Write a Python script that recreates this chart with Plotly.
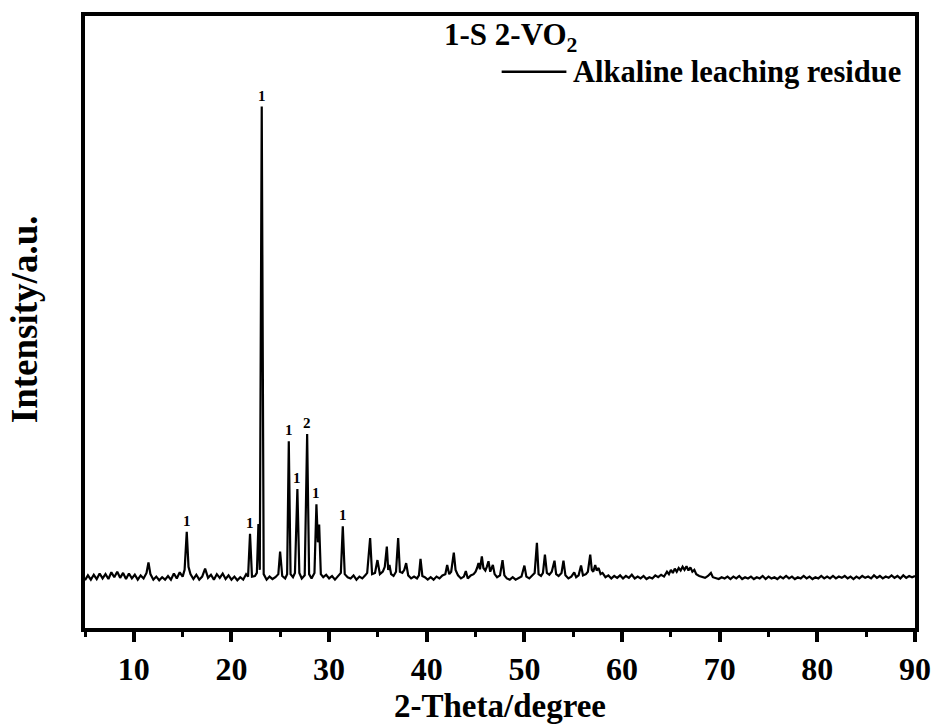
import plotly.graph_objects as go

# ---- XRD pattern (2-theta in degrees, intensity in arbitrary units) ----
two_theta = [
    5.0, 5.3, 5.6, 5.9, 6.2, 6.5, 6.8, 7.1, 7.4, 7.7, 8.0, 8.3, 8.6, 8.9, 9.2, 9.5, 9.8, 10.1, 10.4, 10.7,
    11.0, 11.3, 11.5, 11.7, 12.0, 12.3, 12.6, 12.9, 13.2, 13.5, 13.8, 14.1, 14.4, 14.7, 15.0, 15.2, 15.42, 15.6, 15.8,
    16.1, 16.4, 16.7, 17.0, 17.3, 17.6, 17.9, 18.2, 18.5, 18.8, 19.1, 19.4, 19.7, 20.0, 20.3, 20.6, 20.9,
    21.2, 21.5, 21.7, 21.9, 22.1, 22.4, 22.6, 22.76, 22.9, 23.1, 23.3, 23.6, 23.9, 24.2, 24.5, 24.8, 24.98,
    25.2, 25.5, 25.7, 25.87, 26.05, 26.3, 26.5, 26.75, 26.95, 27.2, 27.5, 27.75, 27.95, 28.2, 28.5, 28.7,
    28.85, 28.98, 29.15, 29.4, 29.7, 30.0, 30.3, 30.6, 30.9, 31.2, 31.4, 31.6, 31.9, 32.2, 32.5, 32.8, 33.1,
    33.4, 33.7, 33.9, 34.2, 34.4, 34.7, 34.95, 35.2, 35.5, 35.7, 35.91, 36.05, 36.18, 36.35, 36.6, 36.85,
    37.07, 37.25, 37.5, 37.7, 37.89, 38.1, 38.4, 38.7, 39.0, 39.2, 39.36, 39.55, 39.8, 40.1, 40.4, 40.7,
    41.0, 41.3, 41.6, 41.9, 42.09, 42.3, 42.5, 42.77, 42.95, 43.2, 43.5, 43.8, 44.0, 44.2, 44.5, 44.8, 45.0,
    45.15, 45.3, 45.45, 45.64, 45.8, 46.0, 46.15, 46.32, 46.5, 46.77, 46.95, 47.2, 47.5, 47.76, 47.95, 48.2,
    48.5, 48.8, 49.1, 49.4, 49.7, 50.0, 50.2, 50.5, 50.8, 51.05, 51.28, 51.45, 51.7, 51.9, 52.1, 52.3, 52.55,
    52.8, 53.08, 53.25, 53.5, 53.8, 54.0, 54.2, 54.5, 54.8, 55.1, 55.3, 55.55, 55.8, 56.0, 56.3, 56.5, 56.74,
    56.9, 57.05, 57.25, 57.4, 57.6, 57.8, 58.0, 58.3, 58.6, 58.9, 59.2, 59.5, 59.8, 60.1, 60.4, 60.7, 61.0,
    61.3, 61.6, 61.9, 62.2, 62.5, 62.8, 63.1, 63.4, 63.7, 64.0, 64.3, 64.6, 64.8, 65.0, 65.2, 65.4, 65.6,
    65.8, 66.0, 66.2, 66.4, 66.6, 66.8, 67.0, 67.2, 67.4, 67.6, 67.9, 68.2, 68.5, 68.8, 69.1, 69.3, 69.6,
    69.9, 70.2, 70.5, 70.8, 71.1, 71.4, 71.7, 72.0, 72.3, 72.6, 72.9, 73.2, 73.5, 73.8, 74.1, 74.4, 74.7,
    75.0, 75.3, 75.6, 75.9, 76.2, 76.5, 76.8, 77.1, 77.4, 77.7, 78.0, 78.3, 78.6, 78.9, 79.2, 79.5, 79.8,
    80.1, 80.4, 80.7, 81.0, 81.3, 81.6, 81.9, 82.2, 82.5, 82.8, 83.1, 83.4, 83.7, 84.0, 84.3, 84.6, 84.9,
    85.2, 85.5, 85.8, 86.1, 86.4, 86.7, 87.0, 87.3, 87.6, 87.9, 88.2, 88.5, 88.8, 89.1, 89.4, 89.7, 90.0,
]
intensity = [
    78, 86, 79, 87, 80, 89, 81, 88, 80, 91, 83, 92, 82, 90, 80, 89, 81, 87, 79, 86,
    81, 90, 107, 88, 79, 84, 78, 83, 79, 85, 79, 89, 81, 91, 84, 95, 157, 100, 88,
    80, 87, 79, 84, 97, 82, 87, 79, 88, 82, 89, 80, 86, 79, 84, 78, 83,
    79, 88, 84, 154, 84, 85, 90, 170, 95, 852, 88, 79, 84, 80, 83, 88, 125,
    85, 81, 88, 305, 88, 83, 90, 227, 90, 81, 86, 317, 88, 81, 90, 202,
    140, 169, 88, 83, 87, 81, 85, 79, 84, 90, 166, 88, 83, 81, 86, 79, 84,
    81, 86, 90, 147, 88, 90, 111, 88, 92, 100, 133, 95, 103, 88, 85, 92,
    147, 92, 90, 95, 106, 86, 81, 84, 81, 86, 113, 85, 83, 79, 83, 79,
    84, 81, 86, 88, 103, 88, 92, 123, 95, 86, 81, 84, 93, 81, 86, 88, 92,
    98, 106, 96, 117, 98, 94, 100, 109, 92, 103, 88, 83, 86, 111, 86, 81,
    79, 83, 79, 82, 84, 102, 84, 81, 86, 90, 139, 88, 85, 90, 120, 90, 87,
    92, 110, 88, 85, 90, 110, 86, 81, 84, 91, 83, 86, 102, 86, 88, 92, 120,
    95, 92, 103, 94, 98, 88, 90, 83, 86, 81, 85, 82, 86, 81, 85, 82, 87,
    81, 84, 81, 85, 80, 83, 81, 86, 83, 87, 84, 92, 88, 95, 90, 97, 92,
    98, 94, 100, 95, 101, 94, 99, 92, 95, 88, 85, 83, 82, 85, 90, 83, 81,
    80, 83, 81, 84, 80, 84, 81, 85, 80, 83, 81, 84, 80, 83, 81, 85, 80,
    84, 81, 83, 80, 84, 81, 85, 81, 84, 80, 83, 81, 85, 81, 84, 80, 83,
    81, 85, 81, 84, 81, 85, 81, 84, 82, 85, 81, 84, 80, 84, 81, 85, 82,
    84, 81, 86, 82, 85, 81, 84, 82, 86, 82, 85, 81, 86, 82, 85, 83, 85,
]

# ---- phase markers above peaks (1 = S, 2 = VO2) ----
label_x = [15.42, 21.9, 23.1, 25.87, 26.75, 27.75, 28.7, 31.4]
label_y = [157, 154, 852, 305, 227, 317, 202, 166]
label_text = ["1", "1", "1", "1", "1", "2", "1", "1"]

series_name = "Alkaline leaching residue"
phase_title = "1-S 2-VO<sub>2</sub>"
x_title = "2-Theta/degree"
y_title = "Intensity/a.u."
x_range = [5, 90]
y_range = [0, 1000]
x_tickvals = [10, 20, 30, 40, 50, 60, 70, 80, 90]

FONT = "Liberation Serif, Times New Roman, serif"

fig = go.Figure()
fig.add_trace(go.Scatter(
    x=two_theta, y=intensity, mode="lines", name=series_name,
    line=dict(color="black", width=2.2), showlegend=False,
))

for lx, ly, lt in zip(label_x, label_y, label_text):
    fig.add_annotation(x=lx, y=ly, text="<b>" + lt + "</b>", showarrow=False,
                       xanchor="center", yanchor="bottom", yshift=1,
                       font=dict(family=FONT, size=15, color="black"))

# phase title and legend entry
fig.add_annotation(xref="paper", yref="paper", x=0.43, y=0.966, text="<b>" + phase_title + "</b>",
                   showarrow=False, xanchor="left", yanchor="middle",
                   font=dict(family=FONT, size=31, color="black"))
fig.add_shape(type="line", xref="paper", yref="paper", x0=0.502, x1=0.580, y0=0.909, y1=0.909,
              line=dict(color="black", width=2.5))
fig.add_annotation(xref="paper", yref="paper", x=0.585, y=0.908, text="<b>" + series_name + "</b>",
                   showarrow=False, xanchor="left", yanchor="middle",
                   font=dict(family=FONT, size=30.5, color="black"))

# y-axis title
fig.add_annotation(xref="paper", yref="paper", x=-0.072, y=0.505, text="<b>" + y_title + "</b>",
                   showarrow=False, textangle=-90, xanchor="center", yanchor="middle",
                   font=dict(family=FONT, size=37, color="black"))

fig.update_layout(
    width=933, height=724,
    margin=dict(l=85, r=18, t=16, b=96, autoexpand=False),
    paper_bgcolor="white", plot_bgcolor="white",
    font=dict(family=FONT, color="black"),
    showlegend=False,
)
fig.update_xaxes(
    range=x_range, tickvals=x_tickvals, ticks="outside", ticklen=10, tickwidth=3.5, tickcolor="black",
    minor=dict(tickvals=[5, 15, 25, 35, 45, 55, 65, 75, 85], ticks="outside", ticklen=5, tickwidth=3, tickcolor="black"),
    showline=True, linewidth=4, linecolor="black", mirror=True, showgrid=False, zeroline=False,
    tickfont=dict(family=FONT, size=32, color="black", weight="bold"),
    title=dict(text=x_title, font=dict(family=FONT, size=33, color="black", weight="bold"), standoff=14),
)
fig.update_yaxes(
    range=y_range, showticklabels=False, ticks="", showline=True, linewidth=4, linecolor="black",
    mirror=True, showgrid=False, zeroline=False,
)

fig.write_html("out.html")
